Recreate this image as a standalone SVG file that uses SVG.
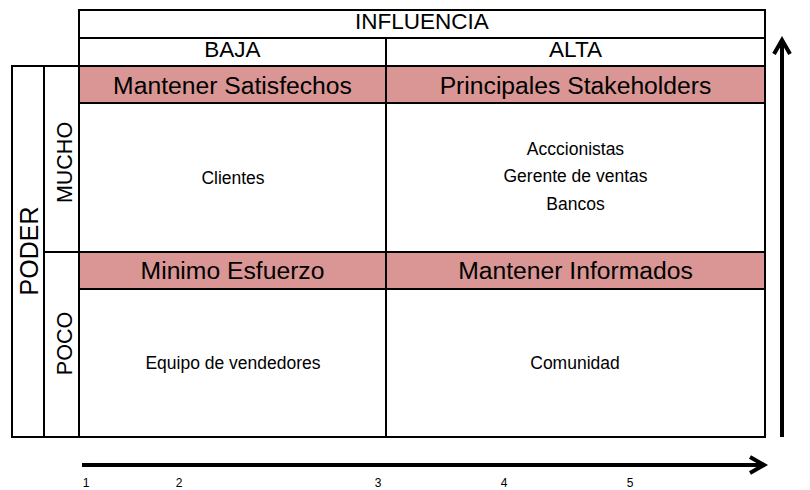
<svg xmlns="http://www.w3.org/2000/svg" width="810" height="490" viewBox="0 0 810 490">
  <defs>
    <style>
      text { font-family: "Liberation Sans", Arial, sans-serif; fill: #000; text-anchor: middle; }
      .grid { stroke: #000; stroke-width: 2; fill: none; }
      .band { fill: #D99694; stroke: #000; stroke-width: 2; }
      .head { font-size: 22.5px; }
      .bandtxt { font-size: 24.7px; }
      .body { font-size: 17.5px; }
      .side { font-size: 21.5px; }
      .num { font-size: 12px; }
      .axis { stroke: #000; stroke-width: 4; fill: none; stroke-linecap: butt; }
      .head-arrow { stroke: #000; stroke-width: 4; fill: none; stroke-linejoin: miter; }
    </style>
  </defs>
  <rect width="810" height="490" fill="#fff"/>

  <g id="header">
    <rect class="grid" x="79" y="10" width="686" height="28"/>
    <text class="head" x="422" y="28.5">INFLUENCIA</text>
    <rect class="grid" x="79" y="38" width="307" height="28"/>
    <rect class="grid" x="386" y="38" width="379" height="28"/>
    <text class="head" x="232.5" y="57">BAJA</text>
    <text class="head" x="575.5" y="57">ALTA</text>
  </g>

  <g id="poder-label">
    <rect class="grid" x="12" y="66" width="32" height="371"/>
    <text transform="translate(38,251) rotate(-90)" style="font-size:25px">PODER</text>
  </g>
  <g id="mucho-label">
    <rect class="grid" x="44" y="66" width="35" height="186"/>
    <text class="side" transform="translate(71.5,162.5) rotate(-90)">MUCHO</text>
  </g>
  <g id="poco-label">
    <rect class="grid" x="44" y="252" width="35" height="185"/>
    <text class="side" transform="translate(71.5,343.5) rotate(-90)">POCO</text>
  </g>

  <g id="mantener-satisfechos">
    <rect class="grid" x="79" y="66" width="307" height="186"/>
    <rect class="band" x="79" y="66" width="307" height="37"/>
    <text class="bandtxt" x="232.5" y="93.5">Mantener Satisfechos</text>
    <text class="body" x="233" y="183.5">Clientes</text>
  </g>

  <g id="principales-stakeholders">
    <rect class="grid" x="386" y="66" width="379" height="186"/>
    <rect class="band" x="386" y="66" width="379" height="37"/>
    <text class="bandtxt" x="575.5" y="93.5">Principales Stakeholders</text>
    <text class="body" x="575.5" y="154.5">Acccionistas</text>
    <text class="body" x="575.5" y="182">Gerente de ventas</text>
    <text class="body" x="575.5" y="210">Bancos</text>
  </g>

  <g id="minimo-esfuerzo">
    <rect class="grid" x="79" y="252" width="307" height="185"/>
    <rect class="band" x="79" y="252" width="307" height="37"/>
    <text class="bandtxt" x="232.5" y="279">Minimo Esfuerzo</text>
    <text class="body" x="233" y="368.5">Equipo de vendedores</text>
  </g>

  <g id="mantener-informados">
    <rect class="grid" x="386" y="252" width="379" height="185"/>
    <rect class="band" x="386" y="252" width="379" height="37"/>
    <text class="bandtxt" x="575.5" y="279">Mantener Informados</text>
    <text class="body" x="575" y="369">Comunidad</text>
  </g>

  <g id="connectors">
    <line class="axis" x1="782" y1="437" x2="782" y2="40"/>
    <polyline class="head-arrow" points="774,54 782,40 790,54"/>
    <line class="axis" x1="82" y1="465" x2="762" y2="465"/>
    <polyline class="head-arrow" points="750,457 764,465 750,473"/>
  </g>

  <g id="axis-numbers">
    <text class="num" x="86" y="486.5">1</text>
    <text class="num" x="179" y="486.5">2</text>
    <text class="num" x="378" y="486.5">3</text>
    <text class="num" x="504" y="486.5">4</text>
    <text class="num" x="630" y="486.5">5</text>
  </g>
</svg>
